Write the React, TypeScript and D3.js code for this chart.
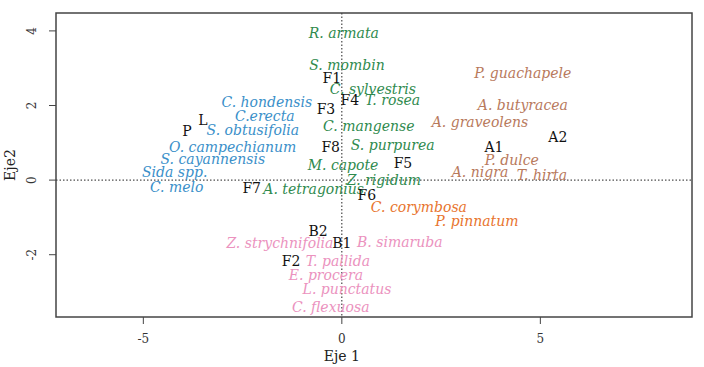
import React from "react";
import { scaleLinear } from "d3";

// site labels (black)
const siteNames = ["F1", "F3", "F4", "F8", "F5", "F6", "F7", "L", "P", "A1", "A2", "B2", "B1", "F2"];
const siteX = [-0.25, -0.4, 0.2, -0.28, 1.54, 0.63, -2.27, -3.5, -3.9, 3.83, 5.44, -0.6, 0.0, -1.28];
const siteY = [2.73, 1.9, 2.14, 0.88, 0.46, -0.4, -0.21, 1.61, 1.31, 0.88, 1.15, -1.37, -1.69, -2.17];

// species labels, grouped
const speciesNames = [
  "C. hondensis", "C.erecta", "S. obtusifolia", "O. campechianum", "S. cayannensis", "Sida spp.", "C. melo",
  "R. armata", "S. mombin", "C. sylvestris", "T. rosea", "C. mangense", "S. purpurea", "M. capote", "Z. rigidum", "A. tetragonius",
  "P. guachapele", "A. butyracea", "A. graveolens", "P. dulce", "A. nigra", "T. hirta",
  "C. corymbosa", "P. pinnatum",
  "Z. strychnifolia", "B. simaruba", "T. pallida", "E. procera", "L. punctatus", "C. flexuosa",
];
const speciesX = [
  -1.89, -1.94, -2.24, -2.75, -3.25, -4.21, -4.16,
  0.05, 0.13, 0.78, 1.28, 0.68, 1.28, 0.03, 1.06, -0.71,
  4.56, 4.56, 3.48, 4.28, 3.48, 5.04,
  1.94, 3.4,
  -1.56, 1.46, -0.1, -0.4, 0.13, -0.28,
];
const speciesY = [
  2.09, 1.72, 1.34, 0.88, 0.56, 0.21, -0.19,
  3.94, 3.08, 2.44, 2.14, 1.45, 0.94, 0.4, 0.0, -0.24,
  2.87, 2.01, 1.55, 0.54, 0.21, 0.13,
  -0.72, -1.1,
  -1.69, -1.66, -2.17, -2.55, -2.92, -3.4,
];
const speciesGroup = [
  0, 0, 0, 0, 0, 0, 0,
  1, 1, 1, 1, 1, 1, 1, 1, 1,
  2, 2, 2, 2, 2, 2,
  3, 3,
  4, 4, 4, 4, 4, 4,
];
const groupColors = ["#3a8fc9", "#2f8a4e", "#b8795c", "#e8742e", "#eb92be"];

const xTicks = [-5, 0, 5];
const yTicks = [-2, 0, 2, 4];

export default function App() {
  const width = 704,
    height = 367,
    left = 56,
    right = 692,
    top = 13,
    bottom = 317,
    x = scaleLinear().domain([-7.2, 8.82]).range([left, right]),
    y = scaleLinear().domain([-3.67, 4.48]).range([bottom, top]),
    font = "'DejaVu Serif', serif";

  return (
    <svg
      width={width}
      height={height}
      style={{ position: "absolute", left: 0, top: 0, background: "#fff" }}
      fontFamily={font}
    >
      {/* reference lines */}
      <line x1={x(0)} x2={x(0)} y1={top} y2={bottom} stroke="#222" strokeDasharray="1.5,2" />
      <line x1={left} x2={right} y1={y(0)} y2={y(0)} stroke="#222" strokeDasharray="1.5,2" />

      {speciesNames.map((s, i) => (
        <text
          key={s}
          x={x(speciesX[i])}
          y={y(speciesY[i])}
          dy=".35em"
          textAnchor="middle"
          fontStyle="italic"
          fontSize={14}
          fill={groupColors[speciesGroup[i]]}
        >
          {s}
        </text>
      ))}
      {siteNames.map((s, i) => (
        <text
          key={s}
          x={x(siteX[i])}
          y={y(siteY[i])}
          dy=".35em"
          textAnchor="middle"
          fontSize={14}
          fill="#111"
        >
          {s}
        </text>
      ))}

      {/* box */}
      <rect x={left} y={top} width={right - left} height={bottom - top} fill="none" stroke="#444" strokeWidth={1.5} />

      {/* x axis */}
      {xTicks.map((t) => (
        <g key={t} transform={`translate(${x(t)},${bottom})`}>
          <line y2={7} stroke="#444" />
          <text y={26} textAnchor="middle" fontSize={12} fill="#333">
            {t}
          </text>
        </g>
      ))}
      {/* y axis */}
      {yTicks.map((t) => (
        <g key={t} transform={`translate(${left},${y(t)})`}>
          <line x2={-7} stroke="#444" />
          <text transform="translate(-20,0) rotate(-90)" textAnchor="middle" fontSize={12} fill="#333">
            {t}
          </text>
        </g>
      ))}
      <text x={x(0)} y={361} textAnchor="middle" fontSize={14} fill="#222">
        Eje 1
      </text>
      <text transform={`translate(15,${(top + bottom) / 2}) rotate(-90)`} textAnchor="middle" fontSize={14} fill="#222">
        Eje2
      </text>
    </svg>
  );
}
